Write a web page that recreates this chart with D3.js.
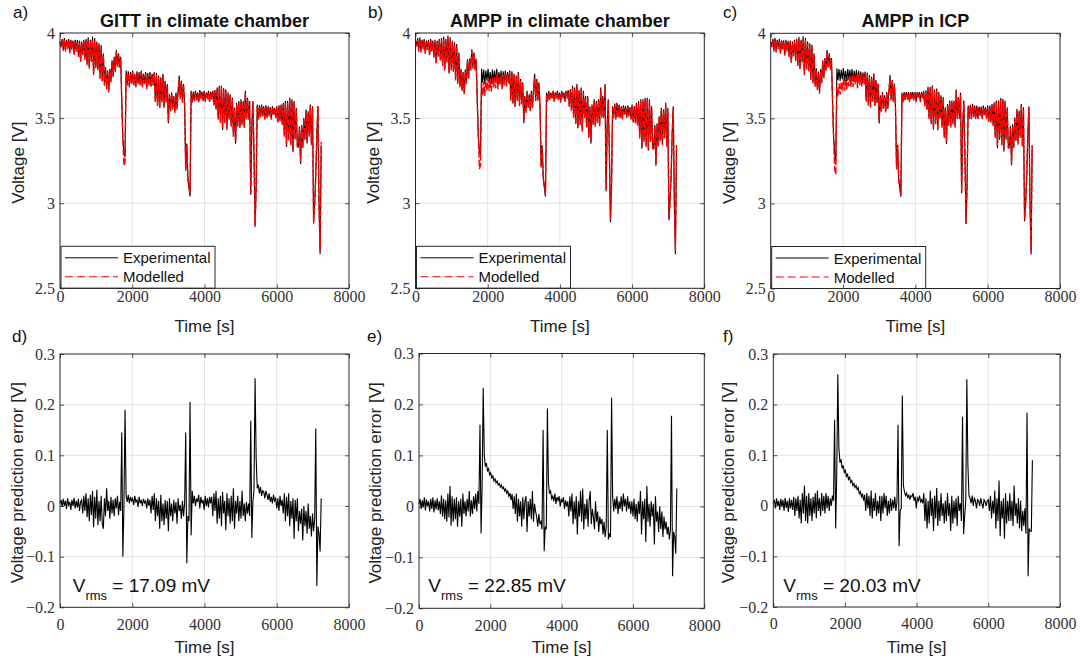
<!DOCTYPE html>
<html><head><meta charset="utf-8">
<script src="https://cdn.jsdelivr.net/npm/d3@7"></script>
<style>body{margin:0;background:#fff}</style>
</head><body><svg id="c" width="1080" height="658" xmlns="http://www.w3.org/2000/svg"></svg>
<script>
// ---- data (voltages in mV, sampled every 30 s from t = 0) ----
const sampleStep = 30;
const xTicks = [0, 2000, 4000, 6000, 8000];
const vTicks = [2.5, 3, 3.5, 4];
const eTicks = [-0.2, -0.1, 0, 0.1, 0.2, 0.3];
const titles = ["GITT in climate chamber", "AMPP in climate chamber", "AMPP in ICP"];
const letters = ["a)", "b)", "c)", "d)", "e)", "f)"];
const rmsValues = ["17.09", "22.85", "20.03"];
const legendLabels = ["Experimental", "Modelled"];

const expA = [
3950,3925,3965,3905,3970,3900,3960,3920,3965,3890,3960,3915,3955,3880,3960,3905,3958,3870,3955,3840,
3950,3880,3960,3850,3965,3820,3975,3800,3960,3840,3980,3760,3970,3800,3950,3790,3940,3740,3930,3720,
3880,3700,3800,3680,3780,3660,3790,3720,3840,3750,3860,3780,3900,3810,3880,3800,3860,3600,3380,3300,
3270,3780,3700,3775,3690,3770,3710,3780,3700,3760,3690,3775,3710,3770,3700,3780,3690,3760,3710,3770,
3680,3765,3700,3770,3690,3760,3700,3770,3600,3765,3580,3750,3560,3740,3600,3760,3570,3720,3600,3700,
3470,3640,3550,3650,3560,3630,3540,3650,3560,3660,3750,3620,3720,3600,3700,3580,3200,3350,3150,3100,
3040,3660,3600,3655,3610,3660,3615,3650,3600,3665,3620,3655,3610,3660,3605,3650,3620,3660,3600,3655,
3620,3660,3580,3665,3560,3680,3500,3690,3480,3690,3430,3675,3480,3670,3440,3650,3500,3640,3460,3620,
3400,3560,3350,3590,3460,3600,3450,3610,3470,3600,3450,3660,3500,3620,3500,3600,3050,3450,3600,3300,
2870,3100,3580,3500,3575,3510,3580,3520,3570,3500,3575,3510,3570,3520,3565,3500,3570,3530,3560,3510,
3570,3480,3575,3490,3580,3470,3590,3400,3600,3330,3600,3380,3620,3350,3610,3300,3600,3380,3560,3340,
3340,3450,3230,3460,3330,3500,3380,3550,3360,3540,3400,3580,3350,3570,2890,3000,3160,3400,3570,3000,
2700,3340];
const modA = [
3945,3915,3955,3895,3960,3890,3950,3905,3955,3880,3950,3900,3945,3870,3950,3890,3945,3860,3945,3830,
3940,3870,3950,3840,3955,3810,3960,3790,3950,3830,3960,3750,3955,3790,3940,3780,3930,3730,3920,3710,
3870,3690,3790,3670,3770,3650,3780,3710,3830,3740,3850,3770,3890,3800,3870,3790,3850,3590,3380,3220,
3240,3760,3690,3765,3680,3760,3700,3770,3690,3750,3680,3765,3700,3760,3690,3770,3680,3750,3700,3760,
3670,3755,3690,3760,3680,3750,3690,3760,3590,3755,3570,3740,3560,3730,3590,3750,3560,3710,3590,3690,
3480,3630,3540,3640,3550,3620,3530,3640,3550,3650,3730,3610,3710,3590,3690,3570,3190,3340,3140,3090,
3050,3650,3590,3645,3600,3650,3605,3640,3590,3655,3610,3645,3600,3650,3595,3640,3610,3650,3590,3645,
3610,3650,3570,3655,3550,3670,3490,3680,3470,3680,3440,3665,3470,3660,3430,3640,3490,3630,3450,3610,
3390,3550,3360,3580,3450,3590,3440,3600,3460,3590,3440,3650,3490,3610,3490,3590,3060,3440,3590,3290,
2860,3090,3570,3490,3565,3500,3570,3510,3560,3490,3565,3500,3560,3510,3555,3490,3560,3520,3550,3500,
3560,3470,3565,3480,3570,3460,3580,3390,3590,3340,3590,3370,3610,3340,3600,3310,3590,3370,3550,3330,
3330,3440,3240,3450,3320,3490,3370,3540,3350,3530,3390,3570,3340,3560,2880,2990,3170,3390,3570,2990,
2720,3360];
const expB = [
3950,3930,3970,3900,3975,3895,3960,3915,3965,3885,3955,3910,3960,3875,3965,3900,3955,3865,3960,3830,
3955,3870,3965,3845,3970,3815,3980,3790,3965,3835,3985,3770,3975,3790,3955,3780,3945,3730,3935,3710,
3885,3690,3790,3670,3770,3650,3785,3710,3845,3740,3850,3790,3905,3800,3885,3790,3850,3610,3400,3310,
3280,3790,3710,3785,3700,3780,3720,3790,3710,3770,3700,3785,3720,3780,3710,3790,3700,3770,3720,3780,
3690,3775,3710,3780,3700,3770,3710,3780,3610,3775,3590,3760,3570,3750,3610,3770,3580,3730,3590,3710,
3470,3630,3540,3660,3570,3640,3550,3660,3570,3670,3760,3610,3730,3610,3710,3570,3220,3340,3140,3090,
3040,3650,3605,3660,3615,3650,3620,3660,3605,3650,3625,3660,3615,3650,3600,3660,3625,3650,3605,3660,
3625,3665,3575,3670,3550,3690,3510,3680,3470,3700,3440,3665,3470,3680,3430,3660,3510,3630,3450,3630,
3390,3570,3350,3580,3470,3610,3460,3600,3480,3610,3460,3680,3510,3630,3510,3700,3070,3460,3610,3310,
2890,3110,3570,3510,3585,3500,3590,3510,3580,3510,3570,3500,3575,3530,3570,3510,3575,3520,3565,3500,
3580,3480,3570,3480,3590,3460,3600,3390,3610,3320,3610,3370,3620,3340,3620,3310,3610,3370,3570,3330,
3330,3460,3220,3470,3340,3510,3370,3560,3350,3550,3390,3590,3340,3560,2900,3010,3150,3410,3570,3010,
2700,3340];
const modB = [
3945,3920,3960,3890,3965,3885,3950,3905,3955,3875,3945,3900,3950,3865,3955,3890,3945,3855,3950,3820,
3945,3860,3955,3835,3960,3805,3965,3780,3955,3825,3970,3760,3960,3780,3945,3770,3935,3720,3925,3700,
3875,3680,3780,3660,3760,3640,3775,3700,3835,3730,3840,3780,3895,3790,3875,3780,3840,3600,3390,3200,
3220,3700,3630,3715,3630,3718,3660,3735,3660,3722,3655,3743,3680,3742,3675,3757,3670,3742,3694,3756,
3668,3755,3692,3764,3686,3758,3700,3770,3602,3768,3585,3750,3565,3740,3600,3760,3570,3720,3580,3700,
3480,3620,3530,3650,3560,3630,3540,3650,3560,3660,3740,3600,3720,3600,3700,3560,3210,3330,3150,3100,
3050,3640,3595,3650,3605,3640,3610,3650,3595,3640,3615,3650,3605,3640,3590,3650,3615,3640,3595,3650,
3615,3655,3565,3660,3540,3680,3500,3670,3460,3690,3450,3655,3460,3670,3420,3650,3500,3620,3440,3620,
3380,3560,3360,3570,3460,3600,3450,3590,3470,3600,3450,3670,3500,3620,3500,3690,3080,3450,3600,3300,
2900,3100,3560,3500,3575,3490,3580,3500,3570,3500,3560,3490,3565,3520,3560,3500,3565,3510,3555,3490,
3570,3470,3560,3470,3580,3450,3590,3380,3600,3330,3600,3360,3610,3330,3610,3320,3600,3360,3560,3320,
3320,3450,3230,3460,3330,3500,3360,3550,3340,3540,3380,3580,3330,3550,2910,3000,3160,3400,3560,3000,
2720,3340];
const expC = [
3950,3928,3968,3902,3972,3898,3962,3918,3966,3888,3958,3912,3958,3878,3962,3902,3956,3868,3958,3835,
3952,3875,3962,3848,3968,3818,3978,3795,3962,3838,3982,3765,3972,3795,3952,3785,3942,3735,3932,3715,
3882,3695,3795,3675,3775,3655,3788,3715,3842,3745,3855,3785,3902,3805,3882,3795,3855,3605,3390,3290,
3250,3795,3725,3790,3720,3785,3730,3795,3720,3780,3715,3790,3730,3785,3720,3790,3715,3780,3725,3785,
3700,3780,3715,3775,3705,3770,3715,3775,3610,3770,3585,3755,3570,3745,3605,3765,3575,3725,3595,3705,
3470,3635,3545,3655,3565,3635,3545,3655,3565,3665,3755,3615,3725,3605,3705,3575,3210,3345,3145,3095,
3040,3650,3605,3655,3615,3655,3620,3655,3605,3655,3625,3655,3615,3655,3605,3655,3625,3655,3605,3655,
3625,3660,3580,3665,3555,3685,3505,3685,3475,3695,3435,3670,3475,3675,3435,3655,3505,3635,3455,3625,
3395,3565,3350,3585,3465,3605,3455,3605,3475,3605,3455,3670,3505,3625,3505,3650,3060,3455,3605,3305,
2880,3105,3575,3505,3580,3505,3585,3515,3575,3505,3575,3505,3570,3525,3570,3505,3575,3525,3565,3505,
3575,3485,3575,3485,3585,3465,3595,3395,3605,3325,3605,3375,3620,3345,3615,3305,3605,3375,3565,3335,
3335,3455,3225,3465,3335,3505,3375,3555,3355,3545,3395,3585,3345,3565,2895,3005,3155,3405,3570,3005,
2700,3340];
const modC = [
3945,3918,3958,3892,3962,3888,3952,3908,3956,3878,3948,3902,3948,3868,3952,3892,3946,3858,3948,3825,
3942,3865,3952,3838,3958,3808,3968,3785,3952,3828,3972,3755,3962,3785,3942,3775,3932,3725,3922,3705,
3872,3685,3785,3665,3765,3645,3778,3705,3832,3735,3845,3775,3892,3795,3872,3785,3845,3595,3380,3200,
3170,3685,3630,3705,3640,3713,3662,3733,3662,3728,3665,3744,3688,3745,3684,3756,3685,3752,3699,3761,
3678,3759,3695,3757,3688,3754,3700,3761,3598,3758,3575,3745,3562,3737,3599,3759,3570,3720,3591,3701,
3480,3625,3535,3645,3555,3625,3535,3645,3555,3655,3735,3605,3715,3595,3695,3565,3200,3335,3135,3085,
3050,3640,3595,3645,3605,3645,3610,3645,3595,3645,3615,3645,3605,3645,3595,3645,3615,3645,3595,3645,
3615,3650,3570,3655,3545,3675,3495,3675,3465,3685,3445,3660,3465,3665,3425,3645,3495,3625,3445,3615,
3385,3555,3360,3575,3455,3595,3445,3595,3465,3595,3445,3660,3495,3615,3495,3640,3070,3445,3595,3295,
2880,3095,3565,3495,3570,3495,3575,3505,3565,3495,3565,3495,3560,3515,3560,3495,3565,3515,3555,3495,
3565,3475,3565,3475,3575,3455,3585,3385,3595,3335,3595,3385,3610,3335,3605,3315,3595,3385,3555,3325,
3325,3445,3235,3455,3325,3495,3365,3545,3345,3535,3385,3575,3335,3555,2905,2995,3165,3395,3560,2995,
2720,3340];

// prediction error in mV
const errD = [
5,12,-2,14,0,10,-6,15,2,8,-8,12,0,16,-5,10,-3,14,-10,8,
12,-15,20,-10,25,-22,15,-30,22,-18,30,-42,18,-25,32,-38,10,-30,20,-35,
-45,15,-20,35,-10,10,-25,18,-15,12,-20,15,-5,20,-18,8,-10,145,-100,0,
190,20,8,22,5,18,10,15,2,20,8,12,-2,18,5,12,0,14,6,10,
-5,15,0,12,-15,20,-8,25,-30,15,-20,10,-45,22,-30,5,-38,12,-25,10,
-50,15,-20,5,-30,12,-15,8,-35,15,-10,2,-25,10,-20,5,145,-113,-20,-30,
205,-58,30,5,20,0,15,8,22,-5,18,5,12,-8,20,0,15,-3,18,5,
18,-20,25,-10,30,-35,15,-25,20,-40,28,-15,10,-48,25,-20,15,-35,20,-30,
35,-45,10,-15,20,-30,10,-25,30,-20,5,-30,8,-15,5,-20,168,-63,10,30,
252,95,35,42,25,38,20,30,28,15,30,22,12,25,8,18,5,22,10,15,
-5,15,-10,20,0,12,-15,25,-30,18,-20,25,-40,10,-25,15,-65,12,-30,15,
-50,-10,-35,-5,-68,0,-40,-10,-55,5,-45,-20,-60,-15,-50,-25,153,-158,-40,-55,
-90,15];
const errE = [
5,15,-5,12,-2,18,-8,14,0,10,-10,15,-5,18,-12,12,-6,16,-8,10,
-15,22,-20,15,-25,12,-30,25,-22,40,-38,20,-30,15,-25,18,-40,10,-20,15,
-40,25,-15,10,-20,15,-10,30,-20,12,-15,20,-5,25,-10,30,5,160,-53,40,
233,100,78,85,70,74,62,66,56,60,50,54,46,50,42,45,38,42,35,38,
30,34,26,30,20,26,12,24,-5,20,-15,25,-30,15,-20,10,-40,18,-25,10,
20,-50,10,-20,15,-25,30,-30,5,-10,-20,-40,-15,-35,-30,-45,150,-88,-40,-45,
192,45,25,30,15,20,10,25,5,18,12,20,0,15,8,18,-5,12,0,10,
-20,20,-10,25,-35,10,-25,20,-55,10,-20,30,-30,35,-45,5,-25,15,-40,10,
30,-35,-5,-20,-45,10,-30,-10,-50,-20,-35,-25,-55,-30,-60,-40,150,-65,-55,-60,
213,20,-10,15,-5,20,-15,10,-5,20,-10,25,0,15,-10,20,-5,10,-15,10,
-20,15,-25,5,-30,10,-15,30,-55,10,-25,15,-70,40,-30,5,-40,10,-20,5,
-75,20,-30,-10,-50,0,-45,-10,-60,-20,-45,-30,-55,-40,-65,-45,178,-137,-50,-60,
-93,35];
const errF = [
5,12,-5,15,0,10,-8,14,-2,12,-10,16,-4,10,-12,15,-5,12,-8,18,
-20,15,-10,20,-25,12,-35,25,-15,40,-30,20,-35,25,-20,15,-30,18,-15,25,
-25,30,-10,15,-20,25,-10,20,-15,25,-5,20,-10,15,0,20,10,170,-45,60,
260,115,85,92,74,80,66,70,58,62,52,56,46,50,40,44,36,40,32,36,
24,28,18,24,10,22,-10,25,-5,20,-20,30,-25,15,-10,25,-20,10,-15,20,
-30,20,-15,25,-5,20,-20,10,-15,15,-10,12,-5,18,-10,8,160,-80,-10,-5,
218,40,28,20,25,15,22,12,20,18,25,10,18,-5,15,10,20,8,12,5,
25,-30,15,-45,10,-35,30,-20,15,-50,20,-25,35,-40,10,-30,25,-20,5,-35,
10,-30,25,-20,5,-50,20,-35,10,-25,15,-40,20,-10,5,-30,176,-56,-20,10,
250,80,20,15,5,20,0,15,10,-5,12,10,0,15,5,-5,12,8,0,10,
12,-10,20,-25,10,-15,30,-45,15,-30,50,-60,10,-25,15,-65,25,-35,10,-30,
25,-30,10,-40,40,-20,5,-35,15,-45,10,-50,-10,-40,-5,-55,184,-139,-45,-50,
-50,90];

// ---- layout ----
const SANS = '"Liberation Sans", Arial, Helvetica, sans-serif';
const SERIF = '"Liberation Serif", "Times New Roman", serif';
const AX = '#262626';
const svg = d3.select('#c');

const topPanels = [
  {box:[60,349,33,288.3], exp:expA, mod:modA, letter:[13,18], ylx:18},
  {box:[415.5,704.3,33,288.3], exp:expB, mod:modB, letter:[368,18], ylx:373},
  {box:[770.7,1060,33.3,288.5], exp:expC, mod:modC, letter:[723,18], ylx:729}
];
const botPanels = [
  {box:[60,349,354,607.3], err:errD, letter:[12,342], ylx:17, rx:72.7},
  {box:[419,704.3,353.5,608.3], err:errE, letter:[367,342], ylx:375, rx:428.3},
  {box:[773.3,1060,354,607], err:errF, letter:[723,342], ylx:728, rx:783.3}
];

function frame(g, x, y, box, yT) {
  const [x0,x1,y0,y1] = box;
  g.append('g').selectAll('line').data(xTicks.slice(1,-1)).join('line')
    .attr('x1', d=>x(d)).attr('x2', d=>x(d)).attr('y1', y0).attr('y2', y1)
    .attr('stroke', '#e3e3e3').attr('stroke-width', 1);
  g.append('g').selectAll('line').data(yT.slice(1,-1)).join('line')
    .attr('y1', d=>y(d)).attr('y2', d=>y(d)).attr('x1', x0).attr('x2', x1)
    .attr('stroke', '#e3e3e3').attr('stroke-width', 1);
}
function axes(g, x, y, box, yT, xPad) {
  const [x0,x1,y0,y1] = box;
  const fmt = d3.format('.1~f');
  const ax = g.append('g').attr('transform', `translate(0,${y1})`)
    .call(d3.axisBottom(x).tickValues(xTicks).tickSize(-4).tickPadding(xPad).tickFormat(d3.format('d')));
  const ay = g.append('g').attr('transform', `translate(${x0},0)`)
    .call(d3.axisLeft(y).tickValues(yT).tickSize(-4).tickPadding(5).tickFormat(fmt));
  const at = g.append('g').attr('transform', `translate(0,${y0})`)
    .call(d3.axisTop(x).tickValues(xTicks).tickSize(-4).tickFormat(''));
  const ar = g.append('g').attr('transform', `translate(${x1},0)`)
    .call(d3.axisRight(y).tickValues(yT).tickSize(-4).tickFormat(''));
  [ax,ay,at,ar].forEach(a => {
    a.select('.domain').remove();
    a.selectAll('line').attr('stroke', AX).attr('stroke-width', 0.8);
    a.selectAll('text').attr('font-family', SERIF).attr('font-size', 16).attr('fill', '#333');
  });
  g.append('rect').attr('x', x0).attr('y', y0).attr('width', x1-x0).attr('height', y1-y0)
    .attr('fill', 'none').attr('stroke', AX).attr('stroke-width', 1);
}
function labels(g, box, p, ylab, xlabY) {
  const [x0,x1,y0,y1] = box;
  g.append('text').attr('x', (x0+x1)/2).attr('y', xlabY).attr('text-anchor', 'middle')
    .attr('font-family', SANS).attr('font-size', 17).attr('fill', '#222').text('Time [s]');
  g.append('text').attr('transform', `translate(${p.ylx},${(y0+y1)/2+2}) rotate(-90)`)
    .attr('text-anchor', 'middle').attr('dominant-baseline', 'central')
    .attr('font-family', SANS).attr('font-size', 17).attr('fill', '#222').text(ylab);
}

topPanels.forEach((p, k) => {
  const [x0,x1,y0,y1] = p.box;
  const x = d3.scaleLinear().domain([0,8000]).range([x0,x1]);
  const y = d3.scaleLinear().domain([2.5,4]).range([y1,y0]);
  const g = svg.append('g');
  frame(g, x, y, p.box, vTicks);
  const line = d3.line().x((d,i)=>x(i*sampleStep)).y(d=>y(d/1000));
  g.append('path').attr('d', line(p.exp)).attr('fill','none').attr('stroke','#000').attr('stroke-width',1.1);
  g.append('path').attr('d', line(p.mod)).attr('fill','none').attr('stroke','#ff0000').attr('stroke-width',1.4)
    .attr('stroke-dasharray','7,2');
  const lw = 154, lh = 42, lx = x0+1, ly = y1-lh;
  const lg = g.append('g');
  lg.append('rect').attr('x', lx).attr('y', ly).attr('width', lw).attr('height', lh)
    .attr('fill', '#fff').attr('stroke', AX).attr('stroke-width', 1);
  lg.append('line').attr('x1', lx+4).attr('x2', lx+57).attr('y1', ly+11.5).attr('y2', ly+11.5)
    .attr('stroke', '#000').attr('stroke-width', 1);
  lg.append('line').attr('x1', lx+4).attr('x2', lx+57).attr('y1', ly+30.5).attr('y2', ly+30.5)
    .attr('stroke', '#ff0000').attr('stroke-width', 1.1).attr('stroke-dasharray', '8,4');
  legendLabels.forEach((t, j) => lg.append('text').attr('x', lx+62).attr('y', ly+17+j*19)
    .attr('font-family', SANS).attr('font-size', 15).attr('fill', '#111').text(t));
  axes(g, x, y, p.box, vTicks, 2);
  labels(g, p.box, p, 'Voltage [V]', 332);
  g.append('text').attr('x', (x0+x1)/2).attr('y', 27).attr('text-anchor', 'middle')
    .attr('font-family', SANS).attr('font-weight', 'bold').attr('font-size', 18).attr('fill', '#111').text(titles[k]);
  g.append('text').attr('x', p.letter[0]).attr('y', p.letter[1])
    .attr('font-family', SANS).attr('font-size', 17).attr('fill', '#111').text(letters[k]);
});

botPanels.forEach((p, k) => {
  const [x0,x1,y0,y1] = p.box;
  const x = d3.scaleLinear().domain([0,8000]).range([x0,x1]);
  const y = d3.scaleLinear().domain([-0.2,0.3]).range([y1,y0]);
  const g = svg.append('g');
  frame(g, x, y, p.box, eTicks);
  const line = d3.line().x((d,i)=>x(i*sampleStep)).y(d=>y(d/1000));
  g.append('path').attr('d', line(p.err)).attr('fill','none').attr('stroke','#000').attr('stroke-width',1.1);
  axes(g, x, y, p.box, eTicks, 11);
  labels(g, p.box, p, 'Voltage prediction error [V]', 653);
  const t = g.append('text').attr('x', p.rx).attr('y', 591.5)
    .attr('font-family', SANS).attr('font-size', 19).attr('fill', '#111');
  t.append('tspan').text('V');
  t.append('tspan').attr('font-size', 13).attr('dy', 8).text('rms');
  t.append('tspan').attr('dy', -8).text(' = ' + rmsValues[k] + ' mV');
  g.append('text').attr('x', p.letter[0]).attr('y', p.letter[1])
    .attr('font-family', SANS).attr('font-size', 17).attr('fill', '#111').text(letters[k+3]);
});
</script>
</body></html>
